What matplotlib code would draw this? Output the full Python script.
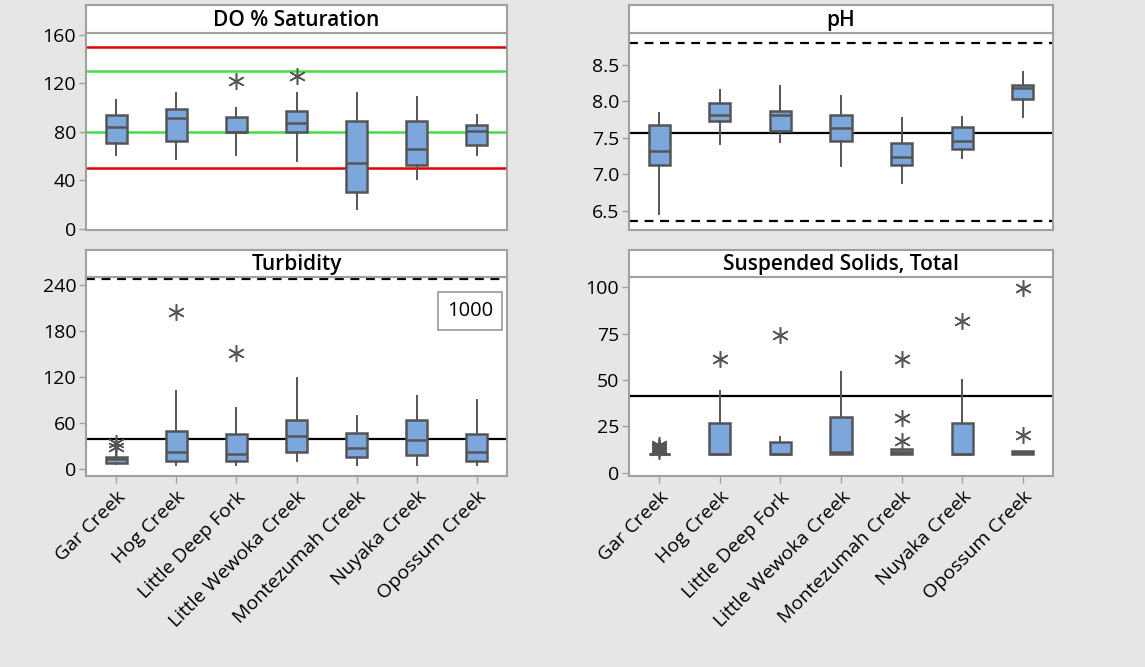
import matplotlib
matplotlib.use("Agg")
import matplotlib.pyplot as plt

plt.rcParams['font.family'] = ['Open Sans', 'DejaVu Sans']

creeks = ['Gar Creek', 'Hog Creek', 'Little Deep Fork', 'Little Wewoka Creek',
          'Montezumah Creek', 'Nuyaka Creek', 'Opossum Creek']

# box stats per creek: whislo, q1, med, q3, whishi
do_low = [61, 57.5, 61, 56, 16, 41, 61]
do_q1 = [70.7, 72.6, 80, 80, 30, 53, 69.5]
do_med = [84.4, 91.3, 80, 87.7, 54.7, 66.2, 81]
do_q3 = [94, 99.2, 92.6, 97.6, 89.3, 89.3, 86]
do_high = [106, 112.4, 99.5, 112.4, 112.4, 109, 94]
do_out = [[], [], [122.3], [126.5], [], [], []]

ph_low = [6.46, 7.42, 7.45, 7.12, 6.875, 7.23, 7.78]
ph_q1 = [7.13, 7.735, 7.59, 7.456, 7.13, 7.35, 8.03]
ph_med = [7.32, 7.81, 7.82, 7.63, 7.24, 7.46, 8.18]
ph_q3 = [7.676, 7.98, 7.87, 7.81, 7.43, 7.65, 8.225]
ph_high = [7.845, 8.157, 8.21, 8.07, 7.77, 7.79, 8.4]
ph_out = [[], [], [], [], [], [], []]

tu_low = [6, 4.8, 5, 10.4, 4.8, 4.8, 4.8]
tu_q1 = [7.8, 10.4, 10.4, 21.8, 15.6, 17.9, 10.4]
tu_med = [12.2, 21.8, 18.7, 42.2, 26.6, 37, 21.8]
tu_q3 = [15.6, 49.5, 44.8, 63, 47, 63, 44.8]
tu_high = [22, 102, 79.5, 118.6, 68.7, 95.2, 89.6]
tu_out = [[34, 29], [204.7], [151], [], [], [], []]

ss_low = [10, 10, 10, 10, 10, 10, 10]
ss_q1 = [10, 10, 10, 10, 10, 10, 10]
ss_med = [10, 10, 10, 11.2, 11, 10, 11]
ss_q3 = [10, 27, 16.6, 30.2, 13, 27, 11.9]
ss_high = [10, 44.2, 19.4, 54.1, 13, 49.8, 11.9]
ss_out = [[12, 13, 14, 15, 13.5], [61.1], [74.2], [], [61.1, 29.3, 17.3], [81.9], [99.6, 20.4]]

box_color = '#7ba7dc'
edge_color = '#555555'
frame_color = '#a0a0a0'


def stats(low, q1, med, q3, high, out):
    return [dict(whislo=a, q1=b, med=c, q3=d, whishi=e, fliers=f)
            for a, b, c, d, e, f in zip(low, q1, med, q3, high, out)]


def panel(fig, rect, title, st, ylim, yticks, show_x):
    left, bottom, width, height, strip_h = rect
    ax = fig.add_axes([left, bottom, width, height])
    ax.bxp(st, positions=range(len(st)), widths=0.35, patch_artist=True,
           showcaps=False,
           boxprops=dict(facecolor=box_color, edgecolor=edge_color, linewidth=1.8),
           medianprops=dict(color=edge_color, linewidth=1.8),
           whiskerprops=dict(color=edge_color, linewidth=1.4),
           flierprops=dict(marker=(6, 2, 0), markersize=12, markeredgecolor=edge_color,
                           markeredgewidth=1.1, linestyle='none'))
    ax.set_xlim(-0.5, len(st) - 0.5)
    ax.set_ylim(*ylim)
    ax.set_yticks(yticks)
    for s in ax.spines.values():
        s.set_color(frame_color)
        s.set_linewidth(1.5)
    ax.tick_params(axis='y', colors=frame_color, labelcolor='black', labelsize=14,
                   length=5, width=1, pad=2)
    if show_x:
        ax.set_xticks(range(len(creeks)))
        ax.set_xticklabels(creeks, rotation=45, ha='right', rotation_mode='anchor')
        ax.tick_params(axis='x', colors=frame_color, labelcolor='black', labelsize=14,
                       length=5, width=1)
    else:
        ax.set_xticks([])
    # title strip
    sx = fig.add_axes([left, bottom + height, width, strip_h])
    sx.set_xticks([])
    sx.set_yticks([])
    for s in sx.spines.values():
        s.set_color(frame_color)
        s.set_linewidth(1.5)
    sx.text(0.5, 0.45, title, ha='center', va='center', fontsize=15,
            fontweight='semibold', transform=sx.transAxes)
    return ax


fig = plt.figure(figsize=(11.45, 6.67), dpi=100)
fig.patch.set_facecolor('#e6e6e6')

L1, W1 = 86 / 1145, 421 / 1145
L2, W2 = 629 / 1145, 424 / 1145
TB, TH, TS = 1 - 230 / 667, 197 / 667, 28 / 667
BB, BH, BS = 1 - 476 / 667, 199 / 667, 27 / 667

ax1 = panel(fig, (L1, TB, W1, TH, TS), 'DO % Saturation',
            stats(do_low, do_q1, do_med, do_q3, do_high, do_out),
            (-1, 161.6), [0, 40, 80, 120, 160], False)
for y, c in [(150, '#e00000'), (50, '#e00000'), (130, '#44dd44'), (80, '#44dd44')]:
    ax1.axhline(y, color=c, linewidth=1.8, zorder=0)

ax2 = panel(fig, (L2, TB, W2, TH, TS), 'pH',
            stats(ph_low, ph_q1, ph_med, ph_q3, ph_high, ph_out),
            (6.235, 8.94), [6.5, 7.0, 7.5, 8.0, 8.5], False)
ax2.yaxis.set_major_formatter(matplotlib.ticker.FormatStrFormatter('%.1f'))
ax2.axhline(8.8, color='black', linestyle=(0, (4, 3)), linewidth=1.6, zorder=0)
ax2.axhline(6.36, color='black', linestyle=(0, (4, 3)), linewidth=1.6, zorder=0)
ax2.axhline(7.57, color='black', linewidth=1.6, zorder=0)

ax3 = panel(fig, (L1, BB, W1, BH, BS), 'Turbidity',
            stats(tu_low, tu_q1, tu_med, tu_q3, tu_high, tu_out),
            (-9.5, 250.4), [0, 60, 120, 180, 240], True)
ax3.axhline(248, color='black', linestyle=(0, (4, 3)), linewidth=1.6, zorder=0)
ax3.axhline(39, color='black', linewidth=1.6, zorder=0)
ax3.text(0.913, 0.829, '1000', transform=ax3.transAxes, ha='center', va='center',
         fontsize=14.5, bbox=dict(boxstyle='square,pad=0.45', facecolor='white',
                                  edgecolor=frame_color, linewidth=1.3))

ax4 = panel(fig, (L2, BB, W2, BH, BS), 'Suspended Solids, Total',
            stats(ss_low, ss_q1, ss_med, ss_q3, ss_high, ss_out),
            (-1.7, 105.5), [0, 25, 50, 75, 100], True)
ax4.axhline(41.4, color='black', linewidth=1.6, zorder=0)

fig.savefig('out.png', dpi=100, facecolor=fig.get_facecolor())
